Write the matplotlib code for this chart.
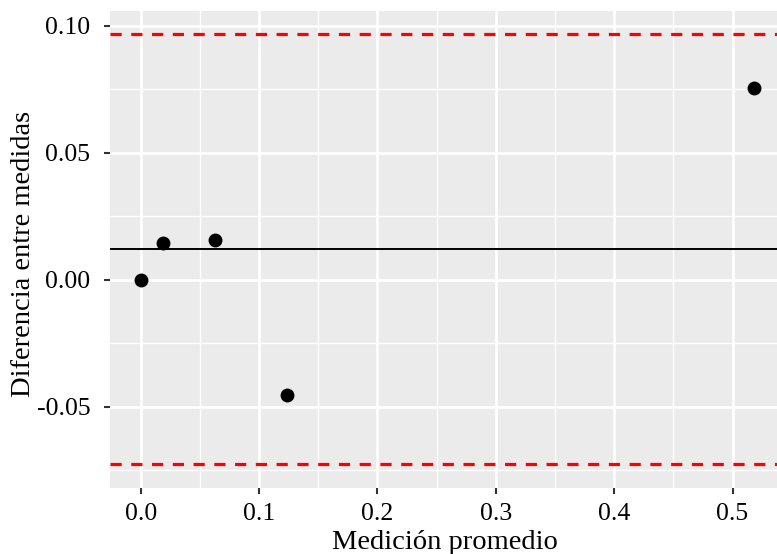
import matplotlib
matplotlib.use("Agg")
import matplotlib.pyplot as plt
import numpy as np
from matplotlib.ticker import MultipleLocator

# Data (Bland-Altman)
mean_meas = [0.0, 0.0186, 0.0624, 0.1235, 0.518]
diff_meas = [0.0, 0.0145, 0.0157, -0.0452, 0.0756]

xticks = [0.0, 0.1, 0.2, 0.3, 0.4, 0.5]
xticklabels = ["0.0", "0.1", "0.2", "0.3", "0.4", "0.5"]
yticks = [-0.05, 0.0, 0.05, 0.10]
yticklabels = ["-0.05", "0.00", "0.05", "0.10"]

d = np.array(diff_meas)
md = d.mean()
sd = d.std(ddof=1)
upper = md + 1.96 * sd
lower = md - 1.96 * sd

plt.rcParams['font.family'] = ['Liberation Serif', 'DejaVu Serif']

W, H = 777, 554
fig = plt.figure(figsize=(W / 100, H / 100), dpi=100)
left, right, top, bottom = 110, 787, 11, 488
ax = fig.add_axes([left / W, (H - bottom) / H, (right - left) / W, (bottom - top) / H])
ax.set_facecolor('#EBEBEB')

ax.set_xlim(-0.026, 0.546)
ax.set_ylim(-0.0819, 0.1059)

ax.xaxis.set_minor_locator(MultipleLocator(0.05))
ax.yaxis.set_minor_locator(MultipleLocator(0.025))
ax.grid(which='major', color='white', lw=1.9)
ax.grid(which='minor', color='white', lw=0.95)
ax.set_axisbelow(True)
for s in ax.spines.values():
    s.set_visible(False)

ax.axhline(md, color='black', lw=1.4, zorder=3)
ax.axhline(upper, color='#FF0000', lw=2.3, ls=(0, (3.5, 3.0)), zorder=3)
ax.axhline(lower, color='#FF0000', lw=2.3, ls=(0, (3.5, 3.0)), zorder=3)
ax.scatter(mean_meas, diff_meas, s=100, color='black', zorder=4, linewidths=0)

ax.set_xticks(xticks)
ax.set_xticklabels(xticklabels)
ax.set_yticks(yticks)
ax.set_yticklabels(yticklabels)
ax.tick_params(which='major', length=4.3, width=1.5, color='#333333', labelsize=18.5,
               labelcolor='black')
ax.tick_params(axis='x', which='major', pad=6.5)
ax.tick_params(axis='y', which='major', pad=9.8)
ax.tick_params(which='minor', length=0)

fig.text(444.5 / W, 1 - 549 / H, 'Medición promedio', fontsize=20.5,
         ha='center', va='baseline')
fig.text(24 / W, 1 - 253.5 / H, 'Diferencia entre medidas', fontsize=20.5,
         ha='center', va='center', rotation=90)

fig.savefig('out.png', dpi=100)
